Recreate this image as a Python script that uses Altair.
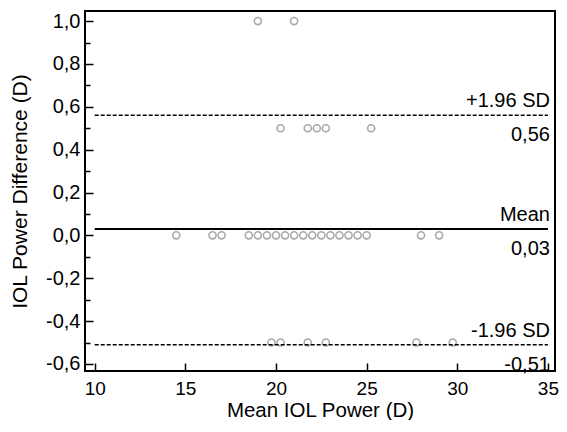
import altair as alt
import pandas as pd

# ---- data ----
mean_power_d0 = [14.5, 16.5, 17.0, 18.5, 19.0, 19.5, 20.0, 20.5, 21.0, 21.5,
                 22.0, 22.5, 23.0, 23.5, 24.0, 24.5, 25.0, 28.0, 29.0]
mean_power_dp05 = [20.25, 21.75, 22.25, 22.75, 25.25]
mean_power_dm05 = [19.75, 20.25, 21.75, 22.75, 27.75, 29.75]
mean_power_d1 = [19.0, 21.0]

line_names = ["+1.96 SD", "Mean", "-1.96 SD"]
line_values = [0.56, 0.03, -0.51]
line_value_labels = ["0,56", "0,03", "-0,51"]
line_kind = ["sd", "mean", "sd"]
line_x_start = 10
line_x_end = 35

x_ticks = [10, 15, 20, 25, 30, 35]
y_ticks = [-0.6, -0.4, -0.2, 0.0, 0.2, 0.4, 0.6, 0.8, 1.0]
y_minor_ticks = [-0.5, -0.3, -0.1, 0.1, 0.3, 0.5, 0.7, 0.9]
x_domain = [9.465, 35.39]
y_domain = [-0.633, 1.047]

# ---- tables ----
pts = pd.DataFrame({
    "mean": mean_power_d0 + mean_power_dp05 + mean_power_dm05 + mean_power_d1,
    "diff": [0.0] * len(mean_power_d0) + [0.5] * len(mean_power_dp05)
            + [-0.5] * len(mean_power_dm05) + [1.0] * len(mean_power_d1),
})
lines = pd.DataFrame({
    "name": line_names, "value": line_values, "vlabel": line_value_labels,
    "kind": line_kind, "x0": line_x_start, "x1": line_x_end,
})

FONT = "Liberation Sans"
xs = alt.Scale(domain=x_domain, nice=False, zero=False)
ys = alt.Scale(domain=y_domain, nice=False, zero=False)

y_label_expr = ("(datum.value < -0.001 ? '-' : '') + "
                "replace(format(abs(datum.value), '.1f'), '.', ',')")

points = alt.Chart(pts).mark_point(
    shape="circle", filled=False, size=50, stroke="#858585", strokeWidth=1.6
).encode(
    x=alt.X("mean:Q", scale=xs, axis=alt.Axis(
        orient="bottom", values=x_ticks, ticks=False, tickSize=0, domain=False,
        grid=False, labelFontSize=19, labelFont=FONT, labelColor="black",
        labelPadding=8, title="Mean IOL Power (D)", titleFont=FONT,
        titleFontSize=20.5, titleFontWeight="normal", titleColor="black",
        titleBaseline="alphabetic", titleY=45)),
    y=alt.Y("diff:Q", scale=ys, axis=alt.Axis(
        orient="left", values=y_ticks, ticks=False, tickSize=0, domain=False,
        grid=False, labelFontSize=20, labelFont=FONT, labelColor="black",
        labelPadding=5, labelExpr=y_label_expr,
        title="IOL Power Difference (D)", titleFont=FONT, titleFontSize=21,
        titleFontWeight="normal", titleColor="black",
        titleBaseline="alphabetic", titleX=-59)),
)

sd_rules = alt.Chart(lines).transform_filter(
    alt.datum.kind == "sd"
).mark_rule(color="black", strokeWidth=1.5, strokeDash=[4, 2]).encode(
    x=alt.X("x0:Q", scale=xs, axis=alt.Axis(
        orient="bottom", values=x_ticks, labels=False, domain=False, grid=False,
        tickSize=8, tickWidth=1.5, tickColor="black", offset=-8, title=None)),
    x2="x1:Q",
    y=alt.Y("value:Q", scale=ys, axis=alt.Axis(
        orient="left", values=y_ticks, labels=False, domain=False, grid=False,
        tickSize=8, tickWidth=1.5, tickColor="black", offset=-8, title=None)),
)

mean_rule = alt.Chart(lines).transform_filter(
    alt.datum.kind == "mean"
).mark_rule(color="black", strokeWidth=2).encode(
    x=alt.X("x0:Q", scale=xs, axis=None),
    x2="x1:Q",
    y=alt.Y("value:Q", scale=ys, axis=None),
)

text_above = alt.Chart(lines).mark_text(
    align="right", baseline="alphabetic", dx=2, dy=-8,
    fontSize=20, font=FONT, color="black"
).encode(
    x=alt.X("x1:Q", scale=xs, axis=None),
    y=alt.Y("value:Q", scale=ys, axis=alt.Axis(
        orient="left", values=y_minor_ticks, labels=False, domain=False,
        grid=False, tickSize=5, tickWidth=1.5, tickColor="black", offset=-5,
        title=None)),
    text="name:N",
)

text_below = alt.Chart(lines).mark_text(
    align="right", baseline="alphabetic", dx=2, dy=26,
    fontSize=20, font=FONT, color="black"
).encode(
    x=alt.X("x1:Q", scale=xs, axis=None),
    y=alt.Y("value:Q", scale=ys, axis=None),
    text="vlabel:N",
)

chart = alt.layer(points, sd_rules, mean_rule, text_above, text_below).resolve_axis(
    x="independent", y="independent"
).properties(
    width=470, height=360,
    autosize=alt.AutoSizeParams(type="none"),
    padding={"left": 77, "top": 3, "right": 4, "bottom": 49},
    background="white",
).configure_view(stroke="black", strokeWidth=2)

chart.save("out.html", embed_options={"renderer": "svg", "actions": False})
